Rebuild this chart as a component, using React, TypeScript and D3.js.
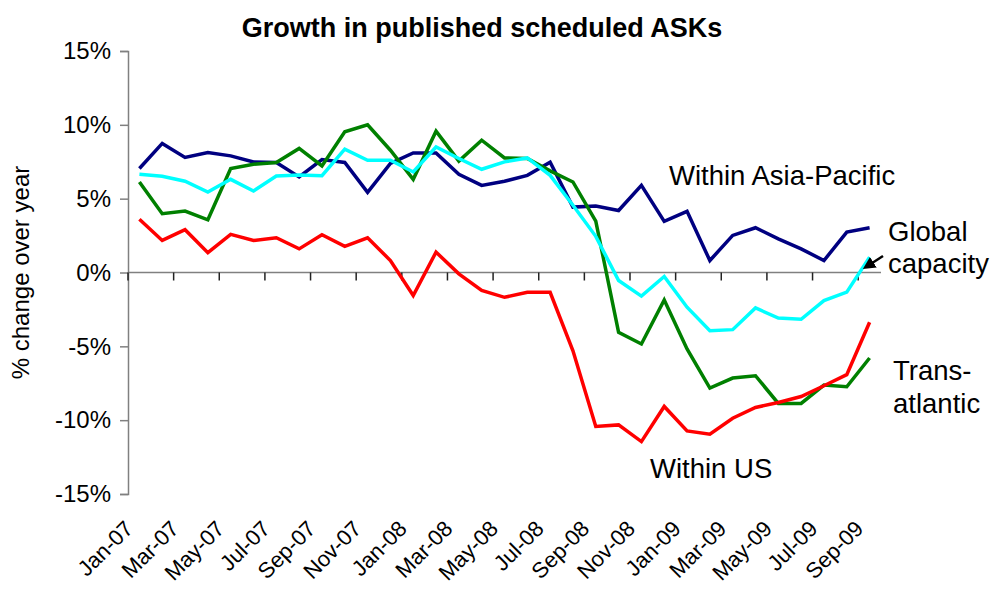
import React, { useEffect, useRef } from 'react';
import * as d3 from 'd3';

const months = [
  'Jan-07', 'Feb-07', 'Mar-07', 'Apr-07', 'May-07', 'Jun-07', 'Jul-07', 'Aug-07', 'Sep-07', 'Oct-07', 'Nov-07', 'Dec-07',
  'Jan-08', 'Feb-08', 'Mar-08', 'Apr-08', 'May-08', 'Jun-08', 'Jul-08', 'Aug-08', 'Sep-08', 'Oct-08', 'Nov-08', 'Dec-08',
  'Jan-09', 'Feb-09', 'Mar-09', 'Apr-09', 'May-09', 'Jun-09', 'Jul-09', 'Aug-09', 'Sep-09',
];

const asiaPacific = [
  7.04, 8.74, 7.79, 8.13, 7.9, 7.49, 7.45, 6.47, 7.65, 7.45, 5.43, 7.38,
  8.1, 8.1, 6.65, 5.9, 6.18, 6.58, 7.47, 4.43, 4.5, 4.2, 5.9, 3.46,
  4.14, 0.81, 2.51, 3.03, 2.28, 1.6, 0.81, 2.74, 3.03,
];

const globalCapacity = [
  6.65, 6.52, 6.18, 5.45, 6.31, 5.52, 6.54, 6.61, 6.56, 8.35, 7.6, 7.6,
  6.81, 8.5, 7.72, 6.99, 7.49, 7.76, 6.58, 4.55, 2.45, -0.54, -1.6, -0.27,
  -2.35, -3.94, -3.87, -2.4, -3.08, -3.17, -1.9, -1.33, 1.04,
];

const transatlantic = [
  6.13, 3.98, 4.16, 3.57, 7.04, 7.33, 7.45, 8.4, 7.22, 9.53, 10.0, 8.28,
  6.31, 9.57, 7.54, 8.96, 7.76, 7.72, 6.88, 6.13, 3.48, -4.05, -4.84, -1.86,
  -5.18, -7.83, -7.15, -6.99, -8.87, -8.87, -7.62, -7.74, -5.79,
];

const withinUS = [
  3.6, 2.17, 2.9, 1.34, 2.58, 2.17, 2.35, 1.6, 2.56, 1.77, 2.35, 0.81,
  -1.56, 1.38, -0.09, -1.22, -1.68, -1.34, -1.34, -5.3, -10.43, -10.32, -11.45, -9.07,
  -10.73, -10.95, -9.87, -9.14, -8.8, -8.4, -7.67, -6.92, -3.37,
];

const yTicks = [-15, -10, -5, 0, 5, 10, 15];

const series = [
  { name: 'Within Asia-Pacific', values: asiaPacific, color: '#000080' },
  { name: 'Trans-atlantic', values: transatlantic, color: '#008000' },
  { name: 'Global capacity', values: globalCapacity, color: '#00FFFF' },
  { name: 'Within US', values: withinUS, color: '#FF0000' },
];

const FONT = '"Liberation Sans", Arial, sans-serif';

export default function App() {
  const svgRef = useRef<SVGSVGElement>(null);
  const width = 991;
  const height = 589;

  useEffect(() => {
    if (!svgRef.current) return;
    const svg = d3.select(svgRef.current);
    svg.selectAll('*').remove();

    const left = 128, right = 881, top = 51, bottom = 494;

    const x = d3.scaleBand<string>().domain(months).range([left, right]);
    const y = d3.scaleLinear().domain([-15, 15]).range([bottom, top]);
    const cx = (m: string) => (x(m) ?? 0) + x.bandwidth() / 2;

    svg.append('rect').attr('width', width).attr('height', height).attr('fill', '#fff');

    // Title
    svg.append('text')
      .attr('x', 482).attr('y', 37)
      .attr('text-anchor', 'middle')
      .attr('font-family', FONT).attr('font-size', 27).attr('font-weight', 'bold')
      .text('Growth in published scheduled ASKs');

    // Y axis
    const yAxis = svg.append('g')
      .attr('transform', `translate(${left},0)`)
      .call(d3.axisLeft(y).tickValues(yTicks).tickSize(8).tickPadding(9).tickFormat(d => `${d}%`));
    yAxis.select('.domain').attr('stroke', '#808080').attr('stroke-width', 1.5);
    yAxis.selectAll('.tick line').attr('stroke', '#808080').attr('stroke-width', 1.5);
    yAxis.selectAll('.tick text')
      .attr('font-family', FONT).attr('font-size', 24).attr('fill', '#000');

    svg.append('text')
      .attr('transform', `translate(29,${(top + bottom) / 2}) rotate(-90)`)
      .attr('text-anchor', 'middle')
      .attr('font-family', FONT).attr('font-size', 24)
      .text('% change over year');

    // X axis at 0%
    const y0 = y(0);
    svg.append('line')
      .attr('x1', left).attr('x2', right).attr('y1', y0).attr('y2', y0)
      .attr('stroke', '#808080').attr('stroke-width', 1.5);

    const labelled = months.filter((_, i) => i % 2 === 0);
    svg.append('g').selectAll('line')
      .data(labelled)
      .join('line')
      .attr('x1', d => x(d) ?? 0).attr('x2', d => x(d) ?? 0)
      .attr('y1', y0).attr('y2', y0 + 8)
      .attr('stroke', '#222').attr('stroke-width', 1.5);

    svg.append('g').selectAll('text')
      .data(labelled)
      .join('text')
      .attr('transform', d => `translate(${cx(d) - 5},530) rotate(-45)`)
      .attr('text-anchor', 'end')
      .attr('font-family', FONT).attr('font-size', 22)
      .text(d => d);

    // Lines
    const line = d3.line<number>()
      .x((_, i) => cx(months[i]))
      .y(d => y(d));

    series.forEach(s => {
      svg.append('path')
        .datum(s.values)
        .attr('fill', 'none')
        .attr('stroke', s.color)
        .attr('stroke-width', 3.5)
        .attr('stroke-linejoin', 'miter')
        .attr('d', line);
    });

    // Annotations
    const note = (tx: number, ty: number, t: string) =>
      svg.append('text')
        .attr('x', tx).attr('y', ty)
        .attr('font-family', FONT).attr('font-size', 27.5)
        .text(t);

    note(669, 185, 'Within Asia-Pacific');
    note(888, 241, 'Global');
    note(888, 273, 'capacity');
    note(893, 380, 'Trans-');
    note(893, 413, 'atlantic');
    note(650, 478, 'Within US');

    // Arrow to global capacity
    svg.append('defs').append('marker')
      .attr('id', 'arrowhead')
      .attr('viewBox', '0 0 10 10')
      .attr('refX', 7).attr('refY', 5)
      .attr('markerWidth', 5).attr('markerHeight', 5)
      .attr('orient', 'auto')
      .append('path')
      .attr('d', 'M0,0 L10,5 L0,10 z')
      .attr('fill', '#000');

    svg.append('line')
      .attr('x1', 883).attr('y1', 256)
      .attr('x2', 866).attr('y2', 267)
      .attr('stroke', '#000').attr('stroke-width', 2.5)
      .attr('marker-end', 'url(#arrowhead)');
  }, []);

  return (
    <div style={{ position: 'absolute', left: 0, top: 0 }}>
      <svg ref={svgRef} width={width} height={height} style={{ display: 'block' }} />
    </div>
  );
}
